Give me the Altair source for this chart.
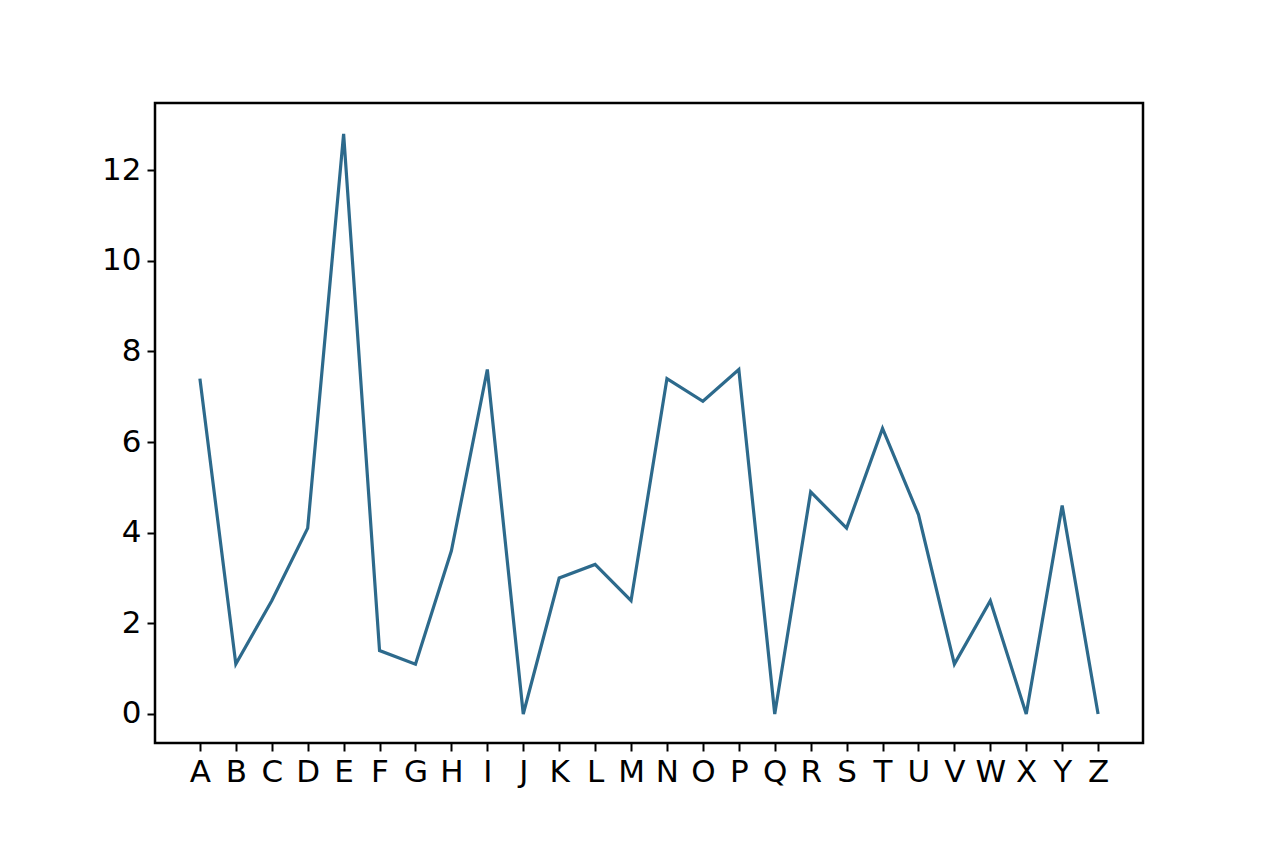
import altair as alt
import pandas as pd

letters = list("ABCDEFGHIJKLMNOPQRSTUVWXYZ")
values = [7.4, 1.1, 2.5, 4.1, 12.8, 1.4, 1.1, 3.6, 7.6, 0.0, 3.0, 3.3, 2.5,
          7.4, 6.9, 7.6, 0.0, 4.9, 4.1, 6.3, 4.4, 1.1, 2.5, 0.0, 4.6, 0.0]
y_ticks = [0, 2, 4, 6, 8, 10, 12]

df = pd.DataFrame({"idx": list(range(len(letters))), "letter": letters, "value": values})

font = "DejaVu Sans"
label_expr = "[" + ",".join("'%s'" % l for l in letters) + "][datum.value]"

chart = alt.Chart(df).mark_line(color="#2d6a8c", strokeWidth=3.2).encode(
    x=alt.X("idx:Q",
            scale=alt.Scale(domain=[-1.25, 26.25], nice=False, zero=False),
            axis=alt.Axis(title=None, values=list(range(len(letters))), labelExpr=label_expr,
                          labelAngle=0, labelFontSize=31, labelFont=font,
                          labelColor="black", tickColor="black", tickSize=8, tickWidth=2,
                          domain=False, grid=False, labelPadding=6, labelFlush=False,
                          labelOverlap=False)),
    y=alt.Y("value:Q",
            scale=alt.Scale(domain=[-0.64, 13.48], nice=False, zero=False),
            axis=alt.Axis(title=None, values=y_ticks, grid=False, labelFontSize=31,
                          labelFont=font, labelColor="black", tickColor="black",
                          tickSize=8, tickWidth=2, domain=False, labelPadding=6)),
).properties(
    width=988, height=640,
    background="white",
    autosize=alt.AutoSizeParams(type="none"),
    padding={"left": 147, "top": 95, "right": 113, "bottom": 97},
).configure_view(stroke="black", strokeWidth=2.5)

chart.save("out.html", embed_options={"renderer": "svg", "actions": False})
